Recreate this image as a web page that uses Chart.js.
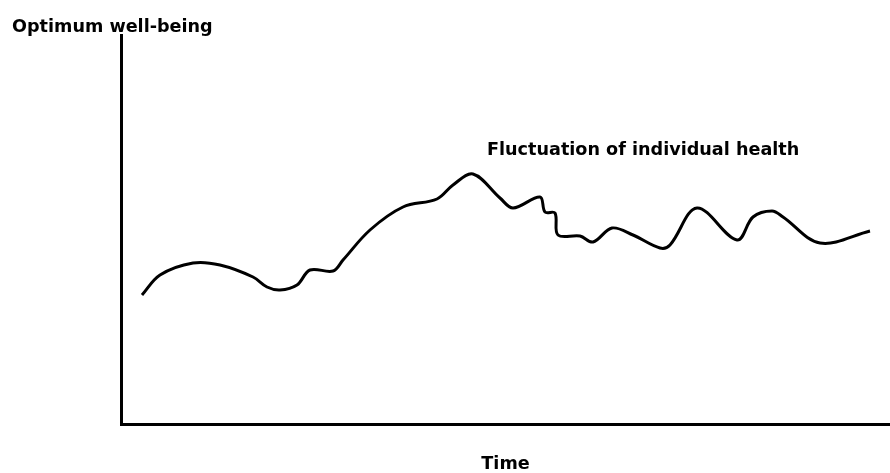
<!DOCTYPE html>
<html>
<head>
<meta charset="utf-8">
<script src="https://cdn.jsdelivr.net/npm/chart.js@4.4.1/dist/chart.umd.min.js"></script>
<style>
  html, body { margin: 0; padding: 0; background: #fff; }
  #wrap { width: 890px; height: 473px; position: relative; }
</style>
</head>
<body>
<div id="wrap"><canvas id="chart"></canvas></div>
<script>
// time along the axis and level of well-being (arbitrary units)
const timeValues = [21, 39, 72, 99, 132, 146, 159, 176, 189, 212, 222, 249, 282, 316, 332, 352, 379,
  392, 419, 424, 434, 437, 459, 472, 491, 512, 539, 549, 576, 616, 632, 651, 662, 699, 749];
const healthValues = [129, 149, 161, 159, 147, 137, 134, 139, 154, 153, 164, 194, 217, 225, 239, 250, 226,
  216, 227, 212, 211, 189, 188, 182, 196, 189, 176, 179, 216, 184, 207, 213, 207, 181, 193];

const axisLabel = "Optimum well-being";
const timeLabel = "Time";
const curveLabel = "Fluctuation of individual health";

const textPlugin = {
  id: "figureText",
  afterDraw(chart) {
    const ctx = chart.ctx;
    const family = "'DejaVu Sans', 'Liberation Sans', sans-serif";
    // size the font so the y-axis label is as wide as in the figure
    ctx.save();
    ctx.font = "bold 20px " + family;
    const size = 20 * 201 / ctx.measureText(axisLabel).width;
    ctx.font = "bold " + size.toFixed(2) + "px " + family;
    ctx.fillStyle = "#000";
    ctx.textBaseline = "alphabetic";
    ctx.textAlign = "left";
    ctx.fillText(axisLabel, 12, 32);
    ctx.fillText(curveLabel, 487, 155);
    ctx.textAlign = "center";
    const area = chart.chartArea;
    ctx.fillText(timeLabel, (area.left + area.right) / 2, 469);
    ctx.restore();
  }
};

new Chart(document.getElementById("chart"), {
  type: "scatter",
  data: {
    datasets: [{
      data: timeValues.map((t, i) => ({ x: t, y: healthValues[i] })),
      showLine: true,
      borderColor: "#000",
      borderWidth: 3,
      pointRadius: 0,
      tension: 0.35,
      fill: false
    }]
  },
  options: {
    responsive: true,
    maintainAspectRatio: false,
    animation: false,
    layout: { padding: { left: 113, right: 0, top: 35, bottom: 41 } },
    plugins: { legend: { display: false }, tooltip: { enabled: false } },
    scales: {
      x: {
        type: "linear", min: 0, max: 769,
        grid: { display: false },
        ticks: { display: false },
        border: { display: true, color: "#000", width: 3 }
      },
      y: {
        min: 0, max: 389,
        grid: { display: false },
        ticks: { display: false },
        border: { display: true, color: "#000", width: 3 }
      }
    }
  },
  plugins: [textPlugin]
});
</script>
</body>
</html>
